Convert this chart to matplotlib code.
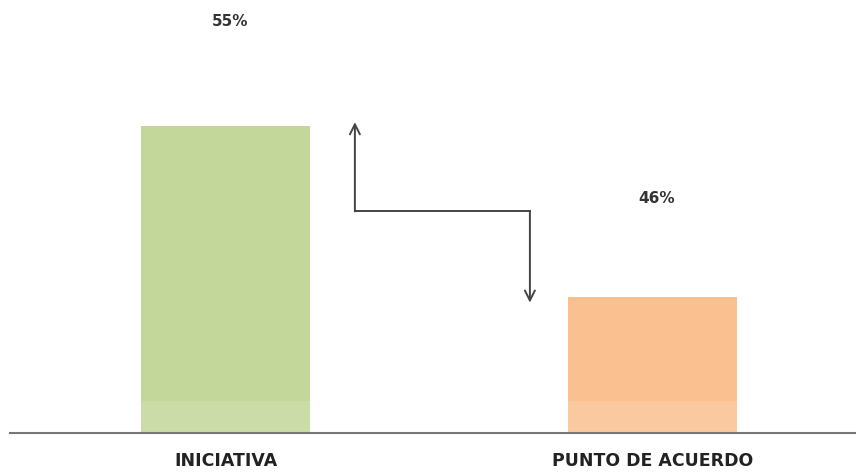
import matplotlib.pyplot as plt

# data
categories = ["INICIATIVA", "PUNTO DE ACUERDO"]
values = [55, 46]
labels = ["55%", "46%"]
colors = ["#C4D79B", "#FAC090"]

# elbow connector between the bars (data coords)
conn_x = [0.303, 0.303, 0.713, 0.713]
conn_y = [55.2, 50.5, 50.5, 45.7]

label_offsets = [75, 71]  # points above the bar top

fig = plt.figure(figsize=(8.56, 4.72), dpi=100)
ax = fig.add_axes([10 / 856, (472 - 433) / 472, 846 / 856, 433 / 472])

x = range(len(categories))
ax.bar(x, values, width=0.396, color=colors, zorder=2)

ax.set_xlim(-0.505, 1.477)
ax.set_ylim(38.84, 61.63)

# faint faded strip near the baseline, as in the source image
ax.axhspan(38.84, 40.5, color="white", alpha=0.15, lw=0, zorder=2.5)

# value labels sit well above each bar
for xi, v, lab, off in zip(x, values, labels, label_offsets):
    ax.annotate(lab, (xi, v), xytext=(3, off), textcoords="offset points",
                ha="center", va="center", fontsize=11, fontweight="bold",
                color="#333333")

# connector with arrowheads at both ends
ax.plot(conn_x[1:3], conn_y[1:3], color="#444444", lw=1.4, zorder=3)
ax.annotate("", xy=(conn_x[0], conn_y[0]), xytext=(conn_x[1], conn_y[1]),
            arrowprops=dict(arrowstyle="->", color="#444444", lw=1.4,
                            shrinkA=0, shrinkB=0, mutation_scale=18))
ax.annotate("", xy=(conn_x[3], conn_y[3]), xytext=(conn_x[2], conn_y[2]),
            arrowprops=dict(arrowstyle="->", color="#444444", lw=1.4,
                            shrinkA=0, shrinkB=0, mutation_scale=18))

ax.set_xticks(list(x))
ax.set_xticklabels(categories, fontsize=12.5, fontweight="bold", color="#222222")
ax.tick_params(axis="x", length=0, pad=14)
ax.set_yticks([])
for side in ["top", "right", "left"]:
    ax.spines[side].set_visible(False)
ax.spines["bottom"].set_color("#777777")
ax.spines["bottom"].set_linewidth(1.5)

fig.savefig("out.png", dpi=100)
